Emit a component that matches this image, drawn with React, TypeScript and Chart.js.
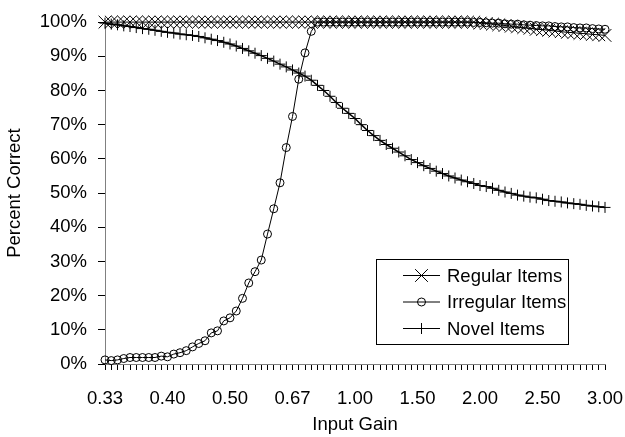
import React, { useEffect, useRef } from 'react';
import { Chart, registerables } from 'chart.js';

Chart.register(...registerables);

const categories = [
  '0.33', '0.34', '0.34', '0.35', '0.36', '0.36', '0.37', '0.38', '0.38', '0.39',
  '0.40', '0.41', '0.42', '0.43', '0.43', '0.44', '0.45', '0.47', '0.48', '0.49',
  '0.50', '0.51', '0.53', '0.54', '0.56', '0.57', '0.59', '0.61', '0.63', '0.65',
  '0.67', '0.69', '0.71', '0.74', '0.77', '0.80', '0.83', '0.87', '0.91', '0.95',
  '1.00', '1.05', '1.10', '1.15', '1.20', '1.25', '1.30', '1.35', '1.40', '1.45',
  '1.50', '1.55', '1.60', '1.65', '1.70', '1.75', '1.80', '1.85', '1.90', '1.95',
  '2.00', '2.05', '2.10', '2.15', '2.20', '2.25', '2.30', '2.35', '2.40', '2.45',
  '2.50', '2.55', '2.60', '2.65', '2.70', '2.75', '2.80', '2.85', '2.90', '2.95',
  '3.00',
];

const regularItems = [
  100, 100, 100, 100, 100, 100, 100, 100, 100, 100,
  100, 100, 100, 100, 100, 100, 100, 100, 100, 100,
  100, 100, 100, 100, 100, 100, 100, 100, 100, 100,
  100, 100, 100, 100, 100, 100, 100, 100, 100, 100,
  100, 100, 100, 100, 100, 100, 100, 100, 100, 100,
  100, 100, 100, 100, 100, 100, 100, 100, 100, 100,
  99.7, 99.6, 99.4, 99.2, 99.0, 98.8, 98.6, 98.4, 98.2, 97.9,
  97.8, 97.6, 97.4, 97.2, 97.0, 96.9, 96.7, 96.6, 96.4, 96.3,
  96.1,
];

const irregularItems = [
  1.2, 1.0, 1.2, 1.6, 1.9, 1.9, 1.9, 1.9, 1.9, 2.3,
  2.1, 2.9, 3.3, 3.9, 5.0, 6.0, 6.8, 9.1, 9.7, 12.6,
  13.5, 15.5, 19.2, 23.7, 27.0, 30.4, 38.0, 45.4, 53.0, 63.3,
  72.4, 83.3, 91.0, 97.3, 100, 100, 100, 100, 100, 100,
  100, 100, 100, 100, 100, 100, 100, 100, 100, 100,
  100, 100, 100, 100, 100, 100, 100, 100, 100, 99.9,
  99.9, 99.8, 99.7, 99.7, 99.5, 99.4, 99.4, 99.2, 99.1, 99.0,
  98.9, 98.9, 98.7, 98.6, 98.6, 98.4, 98.3, 98.3, 98.1, 98.0,
  97.9,
];

const novelItems = [
  99.7, 99.4, 99.2, 98.9, 98.7, 98.4, 98.1, 97.9, 97.6, 97.3,
  97.0, 96.8, 96.5, 96.3, 96.1, 95.8, 95.4, 95.0, 94.6, 94.1,
  93.6, 93.0, 92.3, 91.6, 90.9, 90.2, 89.4, 88.6, 87.7, 86.9,
  86.0, 85.1, 84.2, 83.0, 81.5, 80.0, 78.3, 76.5, 74.8, 73.3,
  71.8, 70.0, 68.3, 66.8, 65.4, 64.2, 63.1, 62.0, 60.9, 59.8,
  58.9, 58.0, 57.2, 56.4, 55.7, 55.0, 54.4, 53.8, 53.3, 52.8,
  52.2, 51.9, 51.4, 50.8, 50.3, 49.9, 49.4, 49.1, 48.8, 48.6,
  48.2, 47.8, 47.6, 47.4, 47.1, 46.9, 46.7, 46.4, 46.2, 46.0,
  45.8,
];

const seriesNames = ['Regular Items', 'Irregular Items', 'Novel Items'];
const xTitle = 'Input Gain';
const yTitle = 'Percent Correct';
const yMin = 0;
const yMax = 100;
const yStep = 10;
const xLabelEvery = 10;

const FONT_FAMILY = '"Liberation Sans", Arial, Helvetica, sans-serif';
const FONT_SIZE = 18.5;

function drawMarker(ctx: CanvasRenderingContext2D, style: string, r: number, x: number, y: number) {
  ctx.beginPath();
  if (style === 'crossRot') {
    const h = r * Math.SQRT1_2;
    ctx.moveTo(x - h, y - h);
    ctx.lineTo(x + h, y + h);
    ctx.moveTo(x - h, y + h);
    ctx.lineTo(x + h, y - h);
  } else if (style === 'cross') {
    ctx.moveTo(x, y - r);
    ctx.lineTo(x, y + r);
    ctx.moveTo(x - r, y);
    ctx.lineTo(x + r, y);
  } else {
    ctx.arc(x, y, r, 0, Math.PI * 2);
  }
  ctx.stroke();
}

const boxLegend = {
  id: 'boxLegend',
  afterDraw(chart: any) {
    const ctx: CanvasRenderingContext2D = chart.ctx;
    ctx.save();
    const bx = 376.5, by = 259.5, bw = 192, bh = 85;
    ctx.fillStyle = '#ffffff';
    ctx.fillRect(bx, by, bw, bh);
    ctx.strokeStyle = '#000000';
    ctx.lineWidth = 1;
    ctx.strokeRect(bx, by, bw, bh);
    ctx.font = `${FONT_SIZE}px ${FONT_FAMILY}`;
    ctx.textBaseline = 'middle';
    ctx.textAlign = 'left';
    chart.data.datasets.forEach((ds: any, i: number) => {
      const cy = 275.5 + i * 26.5;
      ctx.strokeStyle = '#000000';
      ctx.lineWidth = 1;
      ctx.beginPath();
      ctx.moveTo(403, cy);
      ctx.lineTo(440, cy);
      ctx.stroke();
      drawMarker(ctx, ds.pointStyle, ds.pointRadius, 421.5, cy);
      ctx.fillStyle = '#000000';
      ctx.fillText(ds.label, 447, cy + 1);
    });
    ctx.restore();
  },
};

export default function App() {
  const canvasRef = useRef<HTMLCanvasElement | null>(null);

  useEffect(() => {
    const canvas = canvasRef.current;
    if (!canvas) return;
    const font = { family: FONT_FAMILY, size: FONT_SIZE };
    const chart = new Chart(canvas, {
      type: 'line',
      data: {
        labels: categories,
        datasets: [
          {
            label: seriesNames[0],
            data: regularItems,
            borderColor: '#000000',
            borderWidth: 1,
            pointStyle: 'crossRot',
            pointRadius: 9,
            pointBorderWidth: 1,
            pointBorderColor: '#000000',
            pointBackgroundColor: 'transparent',
            tension: 0,
            clip: false,
          } as any,
          {
            label: seriesNames[1],
            data: irregularItems,
            borderColor: '#000000',
            borderWidth: 1,
            pointStyle: 'circle',
            pointRadius: 4,
            pointBorderWidth: 1,
            pointBorderColor: '#000000',
            pointBackgroundColor: 'transparent',
            tension: 0,
            clip: false,
          } as any,
          {
            label: seriesNames[2],
            data: novelItems,
            borderColor: '#000000',
            borderWidth: 1.5,
            pointStyle: 'cross',
            pointRadius: 5.5,
            pointBorderWidth: 1,
            pointBorderColor: '#000000',
            pointBackgroundColor: 'transparent',
            tension: 0,
            clip: false,
          } as any,
        ],
      },
      options: {
        responsive: false,
        animation: false,
        events: [],
        layout: { padding: { left: 0, top: 20, right: 20, bottom: 0 } },
        plugins: {
          legend: { display: false },
          tooltip: { enabled: false },
        },
        scales: {
          x: {
            type: 'category',
            offset: false,
            border: { display: true, color: '#808080', width: 1 },
            grid: {
              offset: false,
              drawOnChartArea: false,
              drawTicks: true,
              tickLength: 6,
              color: '#000000',
            },
            ticks: {
              autoSkip: false,
              maxRotation: 0,
              minRotation: 0,
              padding: 18,
              color: '#000000',
              font,
              callback: function (this: any, value: any, index: number) {
                return index % xLabelEvery === 0 ? this.getLabelForValue(value) : '';
              },
            },
            title: {
              display: true,
              text: xTitle,
              color: '#000000',
              font,
              padding: { top: 0, bottom: 1 },
            },
            afterFit: (scale: any) => {
              scale.height = 73;
              scale.paddingLeft = 0;
              scale.paddingRight = 0;
            },
          },
          y: {
            type: 'linear',
            min: yMin,
            max: yMax,
            border: { display: true, color: '#808080', width: 1 },
            grid: {
              drawOnChartArea: false,
              drawTicks: true,
              tickLength: 7,
              color: '#000000',
            },
            ticks: {
              stepSize: yStep,
              padding: 11,
              color: '#000000',
              font,
              callback: (v: any) => `${v}%`,
            },
            title: {
              display: true,
              text: yTitle,
              color: '#000000',
              font,
              padding: { top: 4, bottom: 0 },
            },
            afterFit: (scale: any) => {
              scale.width = 105;
            },
          },
        },
      } as any,
      plugins: [boxLegend],
    });
    return () => chart.destroy();
  }, []);

  return (
    <div style={{ position: 'absolute', left: 0, top: 0, width: 625, height: 437, background: '#ffffff' }}>
      <canvas ref={canvasRef} width={625} height={437} style={{ display: 'block' }} />
    </div>
  );
}
